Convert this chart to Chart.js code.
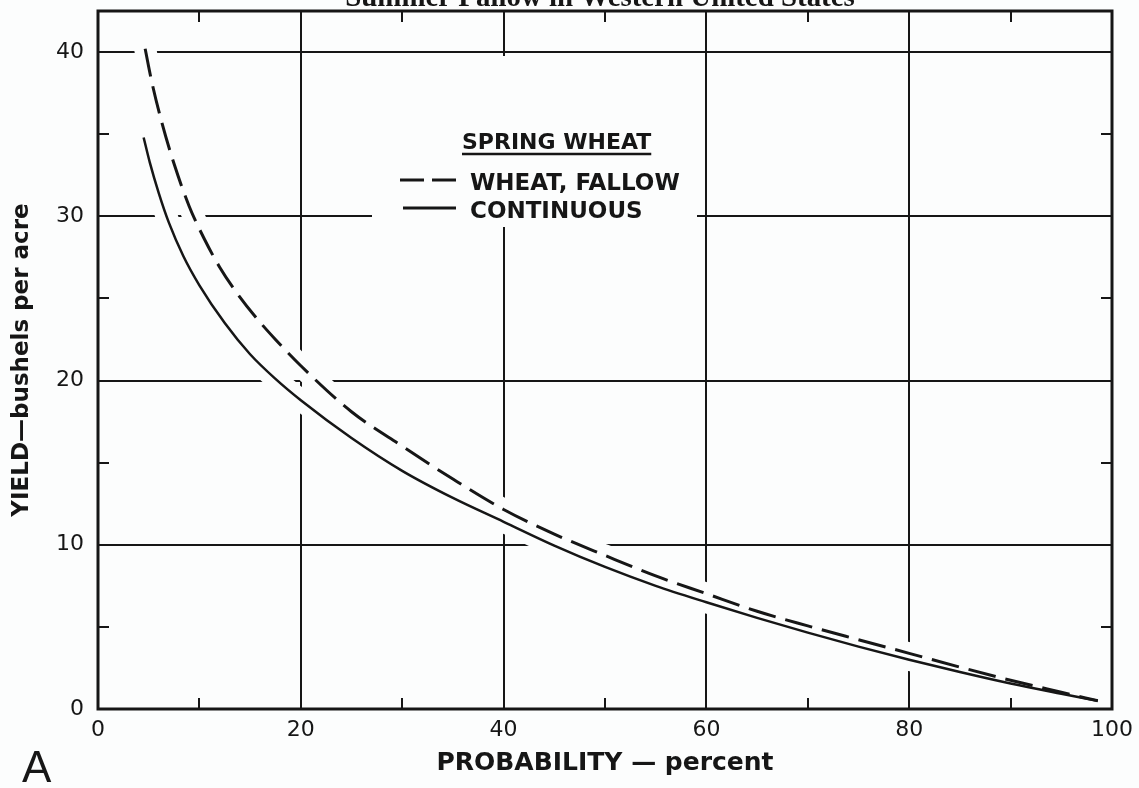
<!DOCTYPE html>
<html><head><meta charset="utf-8">
<script src="https://cdn.jsdelivr.net/npm/chart.js@4.4.1/dist/chart.umd.min.js"></script>
<style>html,body{margin:0;padding:0;background:#fcfdfd;} canvas{display:block;}</style>
</head><body>
<canvas id="c" width="1139" height="788"></canvas>
<script>
// ---- data ----
const fallowX = [4.65, 5.3, 6.3, 7.5, 9, 10.5, 12, 13.5, 15.5, 17.5, 20, 25, 30, 35, 40, 45, 50, 55, 60, 65, 70, 75, 80, 85, 90, 95, 98.6];
const fallowY = [40.2, 38.2, 35.7, 33.2, 30.6, 28.6, 26.9, 25.5, 23.9, 22.5, 20.9, 18.1, 16.0, 14.0, 12.15, 10.65, 9.35, 8.1, 7.02, 5.95, 5.06, 4.22, 3.39, 2.55, 1.75, 1.02, 0.5];
const contX = [4.5, 5.1, 6.0, 7.0, 8.4, 10, 12.5, 15, 17.5, 20, 25, 30, 35, 40, 45, 50, 55, 60, 65, 70, 75, 80, 85, 90, 95, 98.6];
const contY = [34.8, 33.3, 31.4, 29.6, 27.6, 25.8, 23.5, 21.6, 20.1, 18.8, 16.5, 14.5, 12.85, 11.4, 9.95, 8.65, 7.5, 6.5, 5.55, 4.65, 3.8, 3.0, 2.25, 1.55, 0.93, 0.5];
const xMajorTicks = [0, 20, 40, 60, 80, 100];
const xMinorTicks = [10, 30, 50, 70, 90];
const yMajorTicks = [0, 10, 20, 30, 40];
const yMinorTicks = [5, 15, 25, 35];
const legendTitle = 'SPRING WHEAT';
const legendLabels = ['WHEAT, FALLOW', 'CONTINUOUS'];
const xTitle = 'PROBABILITY — percent';
const yTitle = 'YIELD—bushels per acre';
const panelLabel = 'A';
const topTitle = 'Summer Fallow in Western United States';

const INK = '#161616';
const BG = '#fcfdfd';
const pts = (xs, ys) => xs.map((x, i) => ({x: x, y: ys[i]}));

const extras = {
  id: 'extras',
  beforeDraw(chart) {
    const ctx = chart.ctx;
    ctx.save();
    ctx.fillStyle = BG;
    ctx.fillRect(0, 0, chart.width, chart.height);
    ctx.restore();
  },
  afterDatasetsDraw(chart) {
    const ctx = chart.ctx;
    const a = chart.chartArea;
    const xs = chart.scales.x, ys = chart.scales.y;
    ctx.save();
    // frame
    ctx.strokeStyle = INK;
    ctx.lineWidth = 3;
    ctx.strokeRect(a.left, a.top, a.right - a.left, a.bottom - a.top);
    // minor ticks
    ctx.lineWidth = 2;
    const tl = 11;
    xMinorTicks.forEach(v => {
      const px = Math.round(xs.getPixelForValue(v));
      ctx.beginPath();
      ctx.moveTo(px, a.bottom); ctx.lineTo(px, a.bottom - tl);
      ctx.moveTo(px, a.top); ctx.lineTo(px, a.top + tl);
      ctx.stroke();
    });
    yMinorTicks.forEach(v => {
      const py = Math.round(ys.getPixelForValue(v));
      ctx.beginPath();
      ctx.moveTo(a.left, py); ctx.lineTo(a.left + tl, py);
      ctx.moveTo(a.right, py); ctx.lineTo(a.right - tl, py);
      ctx.stroke();
    });
    // legend (white patch where the grid is interrupted)
    ctx.fillStyle = BG;
    ctx.fillRect(372, 56, 325, 171);
    ctx.fillStyle = INK;
    ctx.textBaseline = 'alphabetic';
    ctx.textAlign = 'left';
    ctx.font = 'bold 22px "DejaVu Sans"';
    ctx.fillText(legendTitle, 462, 149);
    const tw = ctx.measureText(legendTitle).width;
    ctx.lineWidth = 2.5;
    ctx.beginPath(); ctx.moveTo(462, 154); ctx.lineTo(462 + tw, 154); ctx.stroke();
    ctx.font = 'bold 23px "DejaVu Sans"';
    ctx.fillText(legendLabels[0], 470, 190);
    ctx.fillText(legendLabels[1], 470, 218);
    ctx.lineWidth = 3;
    ctx.setLineDash([24, 8]);
    ctx.beginPath(); ctx.moveTo(400, 180); ctx.lineTo(456, 180); ctx.stroke();
    ctx.setLineDash([]);
    ctx.beginPath(); ctx.moveTo(403, 208); ctx.lineTo(456, 208); ctx.stroke();
    // panel letter
    ctx.font = '44px "Liberation Sans"';
    ctx.fillText(panelLabel, 22, 782);
    // cut-off heading at the very top
    ctx.font = 'bold 24px "Liberation Serif"';
    const w = ctx.measureText(topTitle).width;
    const s = 510 / w;
    ctx.font = 'bold ' + (24 * s).toFixed(1) + 'px "Liberation Serif"';
    ctx.textAlign = 'center';
    ctx.fillText(topTitle, 600, 6);
    ctx.restore();
  }
};

new Chart(document.getElementById('c'), {
  type: 'line',
  data: {
    datasets: [
      {label: legendLabels[0], data: pts(fallowX, fallowY), borderColor: INK, borderWidth: 3, borderDash: [28, 10], pointRadius: 0, cubicInterpolationMode: 'monotone', order: 1, fill: false},
      {label: legendLabels[1], data: pts(contX, contY), borderColor: INK, borderWidth: 2.5, pointRadius: 0, cubicInterpolationMode: 'monotone', order: 1, fill: false},
      {label: 'halo1', data: pts(fallowX, fallowY), borderColor: BG, borderWidth: 22, borderCapStyle: 'round', pointRadius: 0, cubicInterpolationMode: 'monotone', order: 5, fill: false},
      {label: 'halo2', data: pts(contX, contY), borderColor: BG, borderWidth: 22, borderCapStyle: 'round', pointRadius: 0, cubicInterpolationMode: 'monotone', order: 5, fill: false}
    ]
  },
  options: {
    responsive: false,
    devicePixelRatio: 1,
    animation: false,
    events: [],
    layout: {padding: {top: 11, right: 27, left: 0, bottom: 0}},
    plugins: {legend: {display: false}, title: {display: false}, tooltip: {enabled: false}},
    scales: {
      x: {
        type: 'linear', min: 0, max: 100,
        afterBuildTicks: s => { s.ticks = xMajorTicks.map(v => ({value: v})); },
        afterFit: s => { s.height = 79; s.paddingLeft = 0; s.paddingRight = 0; },
        grid: {color: INK, lineWidth: 2, drawTicks: false},
        border: {display: false},
        ticks: {color: INK, padding: 8, font: {family: 'DejaVu Sans', size: 22}, maxRotation: 0},
        title: {display: true, text: xTitle, color: INK, font: {family: 'DejaVu Sans', size: 25, weight: 'bold'}, padding: {top: 0, bottom: 10}}
      },
      y: {
        type: 'linear', min: 0, max: 42.5,
        afterBuildTicks: s => { s.ticks = yMajorTicks.map(v => ({value: v})); },
        afterFit: s => { s.width = 98; s.paddingTop = 0; s.paddingBottom = 0; },
        grid: {color: INK, lineWidth: 2, drawTicks: false},
        border: {display: false},
        ticks: {color: INK, padding: 14, font: {family: 'DejaVu Sans', size: 22}},
        title: {display: true, text: yTitle, color: INK, font: {family: 'DejaVu Sans', size: 23, weight: 'bold'}, padding: {top: 8, bottom: 0}}
      }
    }
  },
  plugins: [extras]
});
</script>
</body></html>
